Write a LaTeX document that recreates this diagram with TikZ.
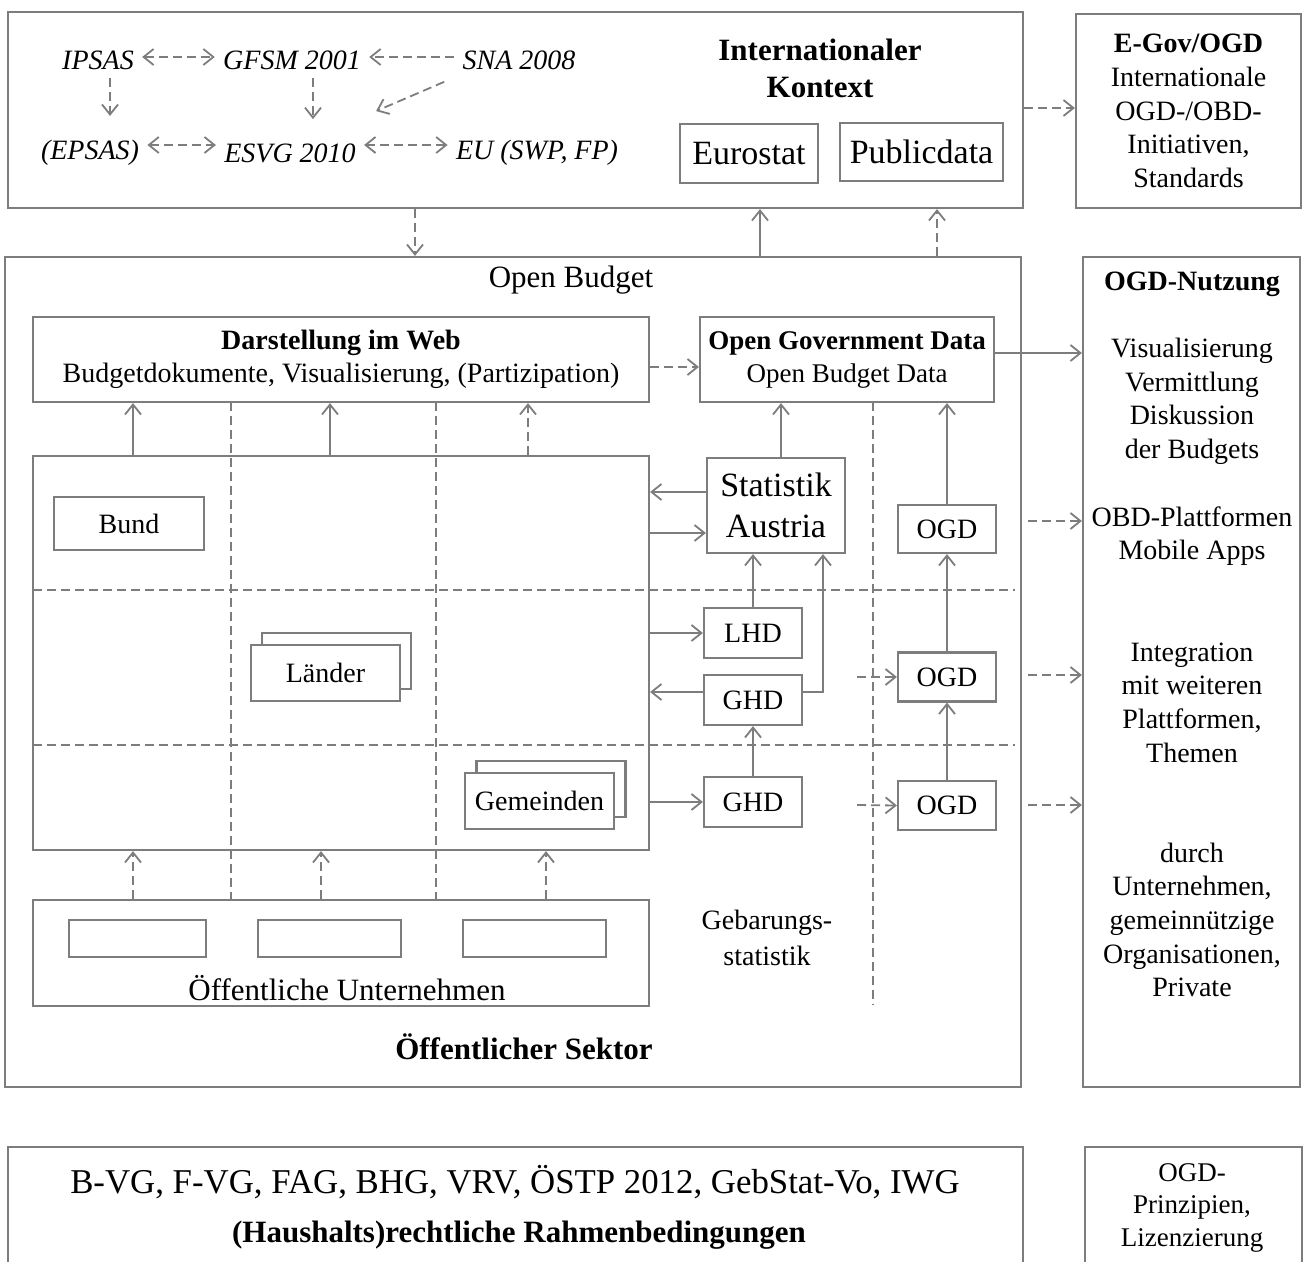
\documentclass[tikz,border=0pt]{standalone}
\usepackage{fontspec}
\setmainfont{Liberation Serif}
\usepackage{xcolor}
\usetikzlibrary{arrows.meta, positioning}
\definecolor{linegray}{RGB}{125,125,125}
\newcommand{\basefont}{\fontsize{14}{16.8}\selectfont}
\newcommand{\bigfont}{\fontsize{17}{20.5}\selectfont}
\tikzset{
  box/.style={draw=linegray, line width=1.1pt, inner sep=0pt, align=center, font=\basefont},
  txt/.style={inner sep=0pt, align=center, font=\basefont},
  std/.style={inner xsep=4pt, inner ysep=0pt, font=\basefont\itshape},
  conn/.style={draw=linegray, line width=0.9pt, ->},
  dconn/.style={conn, dash pattern=on 4.5pt off 2.5pt},
  grid/.style={draw=linegray, line width=0.9pt, dash pattern=on 4.5pt off 2.5pt}
}

\begin{document}
\begin{tikzpicture}[x=0.5pt, y=-0.5pt, >={Straight Barb[length=5pt, width=8pt]}]
    \useasboundingbox (0,0) rectangle (1305,1262);

    \node[box, minimum width=507.5pt, minimum height=98pt] (intl) at (515.5,110) {};
    \node[txt, font=\fontsize{15.5}{18.5}\selectfont\bfseries] (kontext) at (820,68.5) {Internationaler\\Kontext};
    \node[box, minimum width=69pt, minimum height=29.5pt, font=\bigfont] (eurostat) at (749,153.5) {Eurostat};
    \node[box, minimum width=81.5pt, minimum height=29pt, font=\bigfont] (publicdata) at (921.5,152) {Publicdata};
    \node[std] (ipsas) at (98,60) {IPSAS};
    \node[std] (gfsm) at (292,60) {GFSM 2001};
    \node[std] (sna) at (519,60) {SNA 2008};
    \node[std] (epsas) at (90,153) {(EPSAS)};
    \node[std] (esvg) at (290,153) {ESVG 2010};
    \node[std] (eu) at (537,153) {EU (SWP, FP)};
    \node[box, minimum width=112.5pt, minimum height=97pt] (egov) at (1188.5,111)
        {\textbf{E-Gov/OGD}\\Internationale\\OGD-/OBD-\\Initiativen,\\Standards};

    \node[box, minimum width=508pt, minimum height=415pt] (budget) at (513,672) {};
    \node[box, minimum width=108.5pt, minimum height=415pt] (nutzung) at (1191.5,672) {};
    \node[txt, font=\fontsize{15.5}{18}\selectfont] (openbudget) at (571,280) {Open Budget};

    \draw[grid] (231,402) -- (231,900);
    \draw[grid] (436,402) -- (436,900);
    \draw[grid] (873,402) -- (873,1005);
    \draw[grid] (33,590) -- (1015,590);
    \draw[grid] (33,745) -- (1015,745);

    \node[box, minimum width=308pt, minimum height=42.5pt] (darst) at (341,359.5)
        {\textbf{Darstellung im Web}\\Budgetdokumente, Visualisierung, (Partizipation)};
    \node[box, minimum width=147pt, minimum height=42.5pt, font=\fontsize{13.5}{16.5}\selectfont] (ogdata) at (847,359.5)
        {\textbf{Open Government Data}\\Open Budget Data};
    \node[box, minimum width=308pt, minimum height=197pt] (sektor) at (341,653) {};
    \node[box, fill=white, minimum width=75pt, minimum height=26.5pt] (bund) at (129,523.5) {Bund};
    \node[box, fill=white, minimum width=74.5pt, minimum height=28pt] (laenderback) at (336.5,661) {};
    \node[box, fill=white, minimum width=74.5pt, minimum height=28pt] (laender) at (325.5,673) {Länder};
    \node[box, fill=white, minimum width=74.5pt, minimum height=28pt] (gemeindenback) at (551,789) {};
    \node[box, fill=white, minimum width=74.5pt, minimum height=28pt] (gemeinden) at (539.5,801) {Gemeinden};

    \node[box, minimum width=69pt, minimum height=47.5pt, font=\bigfont] (statistik) at (776,505.5) {Statistik\\Austria};
    \node[box, minimum width=49pt, minimum height=25pt] (lhd) at (753,633) {LHD};
    \node[box, minimum width=49pt, minimum height=25pt] (ghdA) at (753,700) {GHD};
    \node[box, minimum width=49pt, minimum height=25pt] (ghdB) at (753,802) {GHD};
    \node[box, minimum width=49pt, minimum height=24pt] (ogdA) at (947,529) {OGD};
    \node[box, minimum width=49pt, minimum height=24.5pt] (ogdB) at (947,677) {OGD};
    \node[box, minimum width=49pt, minimum height=24.5pt] (ogdC) at (947,805.5) {OGD};

    \node[box, minimum width=308pt, minimum height=53pt] (untern) at (341,953) {};
    \node[box, minimum width=68.5pt, minimum height=18.5pt] (untA) at (137.5,938.5) {};
    \node[box, minimum width=71.5pt, minimum height=18.5pt] (untB) at (329.5,938.5) {};
    \node[box, minimum width=71.5pt, minimum height=18.5pt] (untC) at (534.5,938.5) {};
    \node[txt, font=\fontsize{15.5}{18}\selectfont] (untlabel) at (347,988) {Öffentliche Unternehmen};
    \node[txt, font=\fontsize{14}{18}\selectfont] (gebstat) at (767,938) {Gebarungs-\\statistik};
    \node[txt, font=\fontsize{15.5}{18}\selectfont\bfseries] (sektorlabel) at (524,1047) {Öffentlicher Sektor};

    \node[txt, font=\basefont\bfseries] (nutzhead) at (1192,284) {OGD-Nutzung};
    \node[txt] (nutzA) at (1192,401.5) {Visualisierung\\Vermittlung\\Diskussion\\der Budgets};
    \node[txt] (nutzB) at (1192,536) {OBD-Plattformen\\Mobile Apps};
    \node[txt] (nutzC) at (1192,702.5) {Integration\\mit weiteren\\Plattformen,\\Themen};
    \node[txt] (nutzD) at (1192,920) {durch\\Unternehmen,\\gemeinnützige\\Organisationen,\\Private};

    \node[box, minimum width=507.5pt, minimum height=71.5pt] (recht) at (515.5,1218.5) {};
    \node[txt, font=\fontsize{17.4}{20}\selectfont] (gesetze) at (515,1182) {B-VG, F-VG, FAG, BHG, VRV, ÖSTP 2012, GebStat-Vo, IWG};
    \node[txt, font=\fontsize{15.5}{18}\selectfont\bfseries] (rahmen) at (519,1235) {(Haushalts)rechtliche Rahmenbedingungen};
    \node[box, minimum width=108.5pt, minimum height=71.5pt] (prinz) at (1193.5,1218.5) {};
    \node[txt, font=\fontsize{13.5}{16.25}\selectfont] (prinztext) at (1192,1207.5) {OGD-\\Prinzipien,\\Lizenzierung};

    \draw[dconn, <->] ([yshift=1.5pt]ipsas.east) -- ([yshift=1.5pt]gfsm.west);
    \draw[dconn] ([yshift=1.5pt]sna.west) -- ([yshift=1.5pt]gfsm.east);
    \draw[dconn, shorten <=4pt, shorten >=12pt] (ipsas.south -| 110,0) -- (epsas.north -| 110,0);
    \draw[dconn, shorten <=4pt, shorten >=12pt] (gfsm.south -| 313,0) -- (esvg.north -| 313,0);
    \draw[dconn] ([xshift=-5pt, yshift=-6pt]sna.south west) -- ([xshift=6pt, yshift=16pt]esvg.north east);
    \draw[dconn, <->] ([yshift=4pt]epsas.east) -- ([yshift=4pt]esvg.west);
    \draw[dconn, <->] ([yshift=4pt]esvg.east) -- ([yshift=4pt]eu.west);

    \draw[dconn] (intl.east |- 0,108) -- (egov.west |- 0,108);
    \draw[dconn] (intl.south -| 415,0) -- (budget.north -| 415,0);
    \draw[conn] (budget.north -| 760,0) -- (intl.south -| 760,0);
    \draw[dconn] (budget.north -| 937,0) -- (intl.south -| 937,0);

    \draw[dconn] (darst.east |- 0,367) -- (ogdata.west |- 0,367);
    \draw[conn] (ogdata.east |- 0,353) -- (nutzung.west |- 0,353);
    \draw[conn] (sektor.north -| 133,0) -- (darst.south -| 133,0);
    \draw[conn] (sektor.north -| 330,0) -- (darst.south -| 330,0);
    \draw[dconn] (sektor.north -| 528,0) -- (darst.south -| 528,0);

    \draw[conn] (statistik.north -| 781,0) -- (ogdata.south -| 781,0);
    \draw[conn] (statistik.west |- 0,492) -- (sektor.east |- 0,492);
    \draw[conn] (sektor.east |- 0,533) -- (statistik.west |- 0,533);
    \draw[conn] (sektor.east |- lhd.west) -- (lhd.west);
    \draw[conn] (lhd.north) -- (statistik.south -| lhd.north);
    \draw[conn] (ghdA.west |- 0,692) -- (sektor.east |- 0,692);
    \draw[conn] (ghdA.east |- 0,692) -| (statistik.south -| 823,0);
    \draw[conn] (sektor.east |- ghdB.west) -- (ghdB.west);
    \draw[conn] (ghdB.north) -- (ghdA.south);

    \draw[conn] (ogdA.north) -- (ogdata.south -| ogdA.north);
    \draw[conn] (ogdB.north) -- (ogdA.south);
    \draw[conn] (ogdC.north) -- (ogdB.south);
    \coordinate (inB) at (857,677);
    \coordinate (inC) at (857,805);
    \draw[dconn] (inB) -- (ogdB.west);
    \draw[dconn] (inC) -- (ogdC.west);
    \coordinate (outA) at (1028,521);
    \coordinate (outB) at (1028,675);
    \coordinate (outC) at (1028,805);
    \draw[dconn] (outA) -- (nutzung.west |- outA);
    \draw[dconn] (outB) -- (nutzung.west |- outB);
    \draw[dconn] (outC) -- (nutzung.west |- outC);

    \draw[dconn] (untern.north -| 133,0) -- (sektor.south -| 133,0);
    \draw[dconn] (untern.north -| 321,0) -- (sektor.south -| 321,0);
    \draw[dconn] (untern.north -| 546,0) -- (sektor.south -| 546,0);
\end{tikzpicture}
\end{document}
